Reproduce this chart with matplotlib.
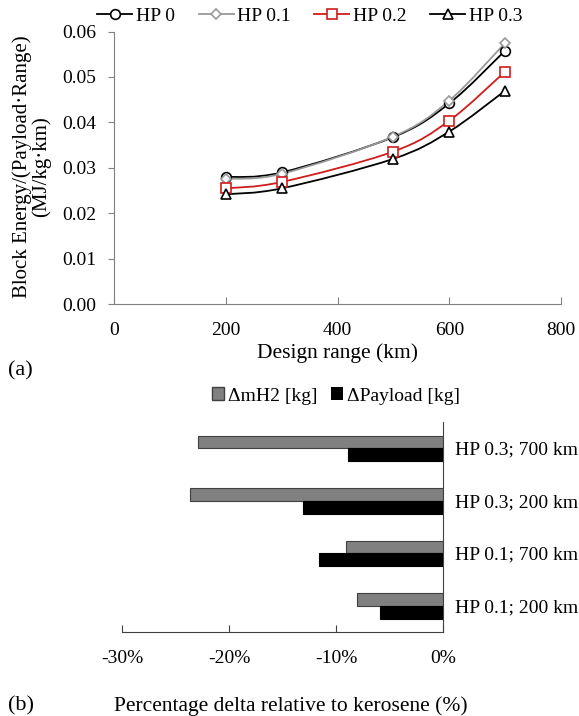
import numpy as np
import matplotlib
matplotlib.use('Agg')
import matplotlib.pyplot as plt
from matplotlib.path import Path
from matplotlib.patches import PathPatch, Patch
from matplotlib.lines import Line2D
from matplotlib.ticker import FuncFormatter

plt.rcParams['font.family'] = ['Liberation Serif', 'DejaVu Serif']

# (a) block energy per payload-range vs design range
design_range = [200, 300, 500, 600, 700]
hp_labels = ['HP 0', 'HP 0.1', 'HP 0.2', 'HP 0.3']
hp0 = [0.0280, 0.0290, 0.0368, 0.0442, 0.0558]
hp01 = [0.0276, 0.0287, 0.0369, 0.0448, 0.0575]
hp02 = [0.0255, 0.0269, 0.0336, 0.0404, 0.0512]
hp03 = [0.0242, 0.0255, 0.0320, 0.0380, 0.0470]

# (b) percentage deltas relative to kerosene
cases = ['HP 0.1; 200 km', 'HP 0.1; 700 km', 'HP 0.3; 200 km', 'HP 0.3; 700 km']
d_mh2 = [-0.080, -0.091, -0.236, -0.229]
d_payload = [-0.059, -0.116, -0.131, -0.089]


def smooth_path(x, y):
    # excel-like smoothed line through the points (bezier segments)
    pts = np.column_stack([x, y]).astype(float)
    n = len(pts)
    verts = [pts[0]]
    codes = [Path.MOVETO]
    for i in range(n - 1):
        p0 = pts[max(i - 1, 0)]
        p1 = pts[i]
        p2 = pts[i + 1]
        p3 = pts[min(i + 2, n - 1)]
        verts += [p1 + (p2 - p0) / 6, p2 - (p3 - p1) / 6, p2]
        codes += [Path.CURVE4] * 3
    return Path(verts, codes)


fig = plt.figure(figsize=(5.79, 7.16), dpi=100)

# ---- top panel ----
ax1 = fig.add_axes([0.197, 0.575, 0.772, 0.381])
styles = [('black', 'o'), ('#999999', 'D'), ('#d01c1c', 's'), ('black', '^')]
series = [hp0, hp01, hp02, hp03]
handles = []
for vals, (col, mk), lab in zip(series, styles, hp_labels):
    ax1.add_patch(PathPatch(smooth_path(design_range, vals), facecolor='none',
                            edgecolor=col, lw=1.3))
    ms = 5 if mk == 'D' else 7
    ax1.plot(design_range, vals, linestyle='none', marker=mk, ms=ms,
             mfc='white', mec=col, mew=1.2)
    handles.append(Line2D([], [], color=col, lw=1.3, marker=mk, ms=ms,
                          mfc='white', mec=col, mew=1.2))

ax1.set_xlim(0, 800)
ax1.set_ylim(0, 0.06)
ax1.set_xticks([0, 200, 400, 600, 800])
ax1.set_yticks(np.arange(0, 0.061, 0.01))
ax1.yaxis.set_major_formatter(FuncFormatter(lambda v, p: '%.2f' % v))
for s in ['top', 'right']:
    ax1.spines[s].set_visible(False)
for s in ['left', 'bottom']:
    ax1.spines[s].set_color('#808080')
ax1.tick_params(axis='y', direction='out', length=4, color='#808080', labelsize=14, pad=9)
ax1.tick_params(axis='x', direction='in', length=5, color='#808080', labelsize=14, pad=13)
ax1.set_xlabel('Design range (km)', fontsize=15.5, labelpad=3)
fig.text(31.5 / 579, 1 - 167 / 716, 'Block Energy/(Payload·Range)\n(MJ/kg·km)',
         fontsize=15, rotation=90, ha='center', va='center', multialignment='center',
         linespacing=0.95)

fig.legend(handles, hp_labels, loc='center', bbox_to_anchor=(310 / 579, 1 - 16 / 716),
           ncol=4, frameon=False, fontsize=14, handlelength=1.8, handletextpad=0.2,
           columnspacing=1.2)
fig.text(8 / 579, 1 - 371 / 716, '(a)', fontsize=16, ha='left', va='center')

# ---- bottom panel ----
ax2 = fig.add_axes([0.2107, 0.1173, 0.5544, 0.2933])
ypos = np.arange(len(cases))
h = 0.243
ax2.barh(ypos + h / 2, d_mh2, height=h, color='#808080', edgecolor='#404040', lw=0.8)
ax2.barh(ypos - h / 2, d_payload, height=h, color='black', edgecolor='black', lw=0.8)
ax2.set_xlim(-0.30, 0)
ax2.set_ylim(-0.5, 3.5)
ax2.set_xticks([-0.3, -0.2, -0.1, 0])
ax2.xaxis.set_major_formatter(FuncFormatter(lambda v, p: '%d%%' % round(v * 100)))
ax2.set_yticks(ypos)
ax2.set_yticklabels(cases)
ax2.yaxis.tick_right()
for s in ['top', 'left']:
    ax2.spines[s].set_visible(False)
for s in ['right', 'bottom']:
    ax2.spines[s].set_color('#404040')
ax2.tick_params(axis='y', length=0, labelsize=14, pad=9)
ax2.tick_params(axis='x', direction='in', length=5, color='#404040', labelsize=14, pad=13)

fig.legend([Patch(facecolor='#808080', edgecolor='#404040'), Patch(facecolor='black')],
           ['ΔmH2 [kg]', 'ΔPayload [kg]'], loc='center',
           bbox_to_anchor=(336 / 579, 1 - 396 / 716), ncol=2, frameon=False, fontsize=14,
           handlelength=0.6, handleheight=0.6, handletextpad=0.2, columnspacing=0.7)
fig.text(291 / 579, 1 - 706 / 716, 'Percentage delta relative to kerosene (%)',
         fontsize=15.5, ha='center', va='center')
fig.text(8 / 579, 1 - 706 / 716, '(b)', fontsize=16, ha='left', va='center')

fig.savefig('out.png', dpi=100)
